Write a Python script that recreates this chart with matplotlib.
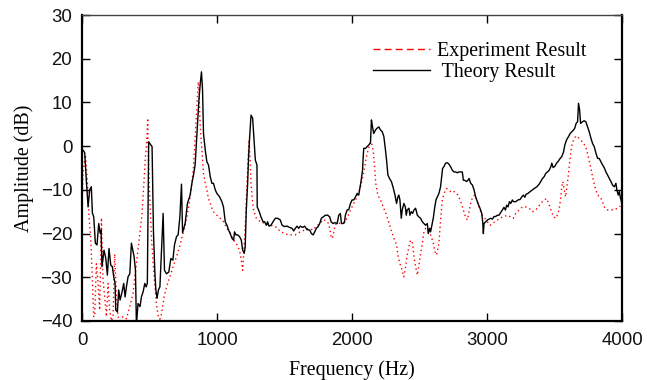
import matplotlib
matplotlib.use("Agg")
import matplotlib.pyplot as plt
from matplotlib.lines import Line2D

theory = [(10,-1.0),(20,-1.5),(32,-7.8),(45,-13.9),(57,-10),(69,-9.3),(77,-15.3),(87,-16.2),(99,-22.2),(111,-22.6),(124,-17.7),(134,-19.9),(141,-19.2),(148,-27.6),(163,-23.8),(176,-25.6),(188,-29.5),(200,-23.4),(213,-27.2),(225,-27.6),(235,-29.9),(245,-31.4),(250,-37.5),(262,-37.9),(272,-32.9),(282,-35.2),(295,-33.6),(309,-31.4),(319,-34.5),(329,-32.2),(341,-29.9),(354,-29.2),(366,-22.2),(386,-25.3),(396,-28.4),(403,-41),(415,-36),(430,-36.7),(440,-34.5),(453,-33.3),(465,-31.4),(475,-32.2),(484,-31.4),(494,1.0),(509,0.3),(519,-0.1),(529,-19.2),(539,-28.4),(547,-32.9),(556,-34.8),(566,-32.9),(577,-32.2),(589,-23.8),(601,-15.4),(611,-28.4),(626,-29.2),(643,-28.8),(658,-25.7),(673,-26.1),(685,-22.6),(700,-20.7),(712,-20.3),(725,-16.2),(737,-8.7),(745,-19.8),(764,-17.7),(781,-13.1),(801,-11.2),(814,-8.5),(826,-6.6),(838,-4.3),(846,-0.1),(856,5.2),(866,10.5),(876,14.4),(885,17.0),(893,12.8),(900,2.9),(913,-0.9),(925,-3.6),(937,-4.3),(950,-7),(962,-8.5),(974,-8.5),(987,-10),(999,-10.8),(1019,-11.6),(1036,-12.7),(1048,-13.9),(1061,-17.3),(1074,-18.1),(1086,-19.2),(1098,-20),(1111,-21.1),(1123,-21.5),(1130,-19.6),(1140,-20.3),(1153,-20.3),(1167,-20.7),(1180,-21.5),(1190,-23.8),(1202,-24.5),(1209,-23),(1217,-14.6),(1227,-8.5),(1234,-2.4),(1242,2.2),(1252,7.1),(1264,6.4),(1271,2.9),(1284,-3.2),(1296,-4.3),(1298,-13.9),(1313,-15),(1326,-16.2),(1341,-17.3),(1353,-17.3),(1365,-18.1),(1375,-17.3),(1385,-18.3),(1400,-18.1),(1415,-17.3),(1432,-16.5),(1449,-16.5),(1469,-16.9),(1482,-18.1),(1499,-18.4),(1519,-18.3),(1538,-18.6),(1556,-18.8),(1568,-19.4),(1580,-18.8),(1593,-18.3),(1605,-18.8),(1617,-18.3),(1635,-18.6),(1649,-18.3),(1667,-19.1),(1687,-19.2),(1699,-20),(1712,-20.3),(1724,-19.6),(1736,-18.8),(1749,-18.4),(1761,-17.7),(1773,-16.5),(1786,-16.2),(1803,-15.8),(1820,-15.8),(1835,-16.2),(1845,-17.3),(1860,-17.7),(1875,-17.5),(1890,-17.7),(1902,-15.8),(1914,-15.4),(1922,-17.7),(1934,-17.7),(1944,-17.5),(1951,-15.8),(1964,-14.6),(1976,-14.5),(1989,-13.1),(2001,-12.3),(2013,-12.3),(2026,-11.6),(2038,-10.8),(2050,-11.2),(2058,-9.7),(2068,-7.8),(2078,-5.5),(2083,-2.4),(2087,-0.5),(2100,-0.5),(2113,-0.1),(2125,0.3),(2137,0.8),(2144,6.0),(2152,4.4),(2161,2.9),(2174,3.7),(2186,4.1),(2199,4.4),(2211,3.7),(2224,3.3),(2236,2.2),(2248,-0.9),(2256,-3.2),(2266,-6.6),(2278,-7.4),(2293,-8.2),(2305,-9.5),(2317,-11),(2330,-13.1),(2340,-11.6),(2347,-11.2),(2355,-12.3),(2365,-16.5),(2372,-14.6),(2384,-13.1),(2395,-13.9),(2402,-15.8),(2409,-14.6),(2422,-14.2),(2429,-15.8),(2439,-15),(2449,-15.4),(2459,-14.6),(2471,-14.2),(2484,-15.8),(2496,-16.2),(2508,-16.5),(2521,-17.3),(2533,-17.7),(2545,-18.1),(2558,-17.7),(2565,-20),(2575,-18.8),(2582,-19.6),(2592,-18.1),(2602,-16.5),(2612,-14.2),(2622,-12.3),(2632,-11.6),(2644,-10.8),(2656,-9.3),(2664,-7),(2671,-5.1),(2681,-4.7),(2693,-3.9),(2706,-3.8),(2718,-4.1),(2730,-4.7),(2743,-5.5),(2755,-5.9),(2768,-5.9),(2780,-6.1),(2792,-5.9),(2805,-5.9),(2817,-5.9),(2825,-7.8),(2834,-7.8),(2849,-8.1),(2859,-7.8),(2867,-7.4),(2879,-8.5),(2892,-8.9),(2904,-10),(2916,-11.6),(2933,-13.1),(2948,-14.2),(2961,-15.4),(2968,-17.3),(2973,-20),(2978,-17.7),(2990,-17.3),(3003,-16.9),(3015,-16.7),(3027,-16.5),(3040,-16.7),(3052,-16.1),(3064,-16.1),(3077,-15.8),(3089,-15.8),(3101,-15.2),(3114,-14.6),(3126,-14),(3136,-14.6),(3146,-13.5),(3156,-13.9),(3166,-12.7),(3176,-13.1),(3188,-12.3),(3195,-12.7),(3213,-12.7),(3230,-12.3),(3245,-12.2),(3258,-11.6),(3270,-11.2),(3280,-11.7),(3290,-11),(3304,-10.8),(3319,-10.4),(3337,-10),(3349,-9.7),(3369,-9.3),(3386,-8.7),(3398,-8.1),(3411,-7.4),(3423,-7),(3436,-6.2),(3448,-5.9),(3461,-5.5),(3473,-4.7),(3480,-3.9),(3490,-4.9),(3503,-4.6),(3515,-3.9),(3527,-3.5),(3542,-2.8),(3554,-2.4),(3567,-1.3),(3577,0.3),(3589,1.4),(3604,2.2),(3616,2.9),(3628,3.3),(3641,3.7),(3650,4.1),(3660,5.2),(3671,5.6),(3678,9.8),(3686,8.3),(3693,5.2),(3708,5.6),(3720,5.8),(3732,5.6),(3745,4.4),(3757,3.3),(3770,1.8),(3782,0.6),(3794,-0.1),(3807,-1.6),(3819,-2.8),(3831,-2.8),(3844,-3.6),(3856,-4.3),(3868,-4.9),(3881,-5.9),(3893,-6.6),(3906,-7.4),(3918,-8.1),(3930,-8.9),(3943,-9.3),(3955,-8.5),(3962,-10),(3972,-11.2),(3980,-10.4),(3987,-11.6),(3998,-13)]

experiment = [(0,-13.9),(7,-6.2),(25,-2),(39,-7.8),(52,-16.2),(64,-20.7),(77,-30.6),(87,-39),(94,-39),(106,-26.9),(119,-31.4),(131,-37.5),(144,-16.4),(156,-30.6),(168,-34.5),(181,-39),(193,-31.4),(205,-37.5),(218,-40),(230,-39),(242,-24.7),(255,-34.5),(267,-39),(279,-40),(304,-39),(329,-39.5),(354,-36.7),(378,-33.7),(403,-26.9),(428,-20),(445,-15.4),(460,-7.8),(470,-2.4),(480,1.4),(487,6.4),(490,-0.9),(502,-11.6),(514,-20.7),(527,-26.9),(539,-31.4),(551,-36),(564,-38.7),(577,-39.6),(589,-38.4),(608,-34.5),(626,-32.2),(651,-29.9),(675,-27.6),(700,-25.3),(725,-22.8),(751,-19.6),(777,-16.2),(796,-12.7),(814,-8.5),(826,-4.7),(833,-0.9),(841,3.7),(851,9),(861,14.7),(868,11.3),(876,4.4),(888,-0.9),(900,-6.2),(913,-8.5),(925,-10),(937,-12),(950,-13.1),(962,-14.2),(974,-15),(999,-15.8),(1024,-16.5),(1048,-17.3),(1074,-18.8),(1098,-20),(1123,-21.5),(1148,-22.6),(1167,-23.8),(1180,-26.1),(1190,-28.4),(1197,-24.7),(1209,-18.6),(1217,-12.3),(1222,-8.5),(1230,-3.2),(1237,1.4),(1245,-3.2),(1252,-8.5),(1260,-11.6),(1271,-14.6),(1291,-16.5),(1321,-17.3),(1358,-17.7),(1395,-18.1),(1432,-18.4),(1469,-19.5),(1506,-20.1),(1543,-20.3),(1580,-20.3),(1617,-19.6),(1647,-19.2),(1679,-18.8),(1712,-19.2),(1736,-18.3),(1761,-17.7),(1791,-16.8),(1820,-17.3),(1835,-18.8),(1845,-20.7),(1855,-21.1),(1865,-19.6),(1875,-18.1),(1890,-17.5),(1914,-17.7),(1939,-17.5),(1964,-16.5),(1989,-14.6),(2013,-13.1),(2038,-11.6),(2063,-9.3),(2083,-6.6),(2100,-3.6),(2113,-1.6),(2127,-0.1),(2142,1.0),(2157,-0.9),(2167,-4.7),(2176,-8.5),(2191,-11.2),(2211,-12.3),(2231,-13.9),(2251,-15.4),(2271,-17.3),(2290,-19.2),(2310,-21),(2330,-22.6),(2340,-24.9),(2355,-26.9),(2372,-28.4),(2384,-29.9),(2397,-27.6),(2409,-24.9),(2422,-23),(2434,-21.5),(2449,-22.2),(2459,-25.3),(2471,-27.6),(2484,-29.5),(2496,-27.2),(2508,-24.7),(2521,-22.2),(2533,-19.6),(2545,-18.8),(2570,-19.6),(2588,-20.7),(2602,-22.2),(2614,-24.1),(2627,-24.9),(2644,-22.2),(2656,-16.9),(2669,-12.3),(2681,-10.8),(2701,-9.7),(2718,-10),(2736,-10.6),(2755,-10.4),(2775,-10.8),(2792,-11.6),(2810,-13.1),(2825,-14.6),(2840,-16.2),(2855,-16.9),(2867,-15),(2879,-13.1),(2894,-11.6),(2909,-11.2),(2924,-12.3),(2941,-13.9),(2958,-15.4),(2973,-16.2),(2990,-16.7),(3007,-17.5),(3022,-18.1),(3040,-17.7),(3057,-17.3),(3077,-16.9),(3101,-16.4),(3126,-16.1),(3151,-15.8),(3176,-16.2),(3195,-16.5),(3213,-15.4),(3238,-14.6),(3263,-13.9),(3287,-13.9),(3312,-14.2),(3337,-15),(3361,-14.6),(3379,-13.9),(3398,-13.1),(3423,-12.3),(3443,-12),(3461,-13.5),(3478,-15),(3493,-16.2),(3510,-16.5),(3527,-15.4),(3537,-13.9),(3547,-11.6),(3554,-9.3),(3562,-8.1),(3572,-10),(3582,-11.6),(3592,-9.3),(3604,-6.2),(3614,-3.2),(3626,-0.1),(3641,1.4),(3658,2.3),(3675,2),(3695,1.4),(3715,0.6),(3732,-0.1),(3750,-2.4),(3764,-4.3),(3782,-7),(3799,-9.3),(3819,-11.2),(3838,-11.6),(3856,-12.7),(3873,-14.2),(3893,-14.6),(3918,-14.6),(3943,-14.5),(3968,-14.2),(3987,-13.7)]

freq_theory = [p[0] for p in theory]
amp_theory = [p[1] for p in theory]
freq_exp = [p[0] for p in experiment]
amp_exp = [p[1] for p in experiment]

x_ticks = [0, 1000, 2000, 3000, 4000]
y_ticks = [-40, -30, -20, -10, 0, 10, 20, 30]
labels = ["Experiment Result", " Theory Result"]

fig = plt.figure(figsize=(6.47, 3.80), dpi=100)
ax = fig.add_axes([82/647, 1-321/380, (622-82)/647, (321-15)/380])

ax.plot(freq_exp, amp_exp, color="red", linestyle=(0, (1, 2.2)), linewidth=1.0)
ax.plot(freq_theory, amp_theory, color="black", linewidth=1.0)

ax.set_xlim(0, 4000)
ax.set_ylim(-40, 30)
ax.set_xticks(x_ticks)
ax.set_yticks(y_ticks)
ax.tick_params(direction="in", length=6, width=1, top=True, right=True,
               labelsize=13.4)
ax.tick_params(axis="x", pad=8)
ax.tick_params(axis="y", pad=7)
for lab in ax.get_xticklabels() + ax.get_yticklabels():
    lab.set_family("Liberation Sans")
    lab.set_color("#111111")

for s in ["left", "bottom", "right"]:
    ax.spines[s].set_linewidth(1.6)
ax.spines["top"].set_linewidth(1.0)
ax.spines["top"].set_color("#444444")

ax.set_xlabel("Frequency (Hz)", family="Liberation Serif", fontsize=14.4, labelpad=8)
ax.set_ylabel("Amplitude (dB)", family="Liberation Serif", fontsize=14.4, labelpad=5)

handles = [Line2D([], [], color="red", linestyle=(0, (5, 3)), linewidth=1.0),
           Line2D([], [], color="black", linewidth=1.0)]
ax.legend(handles, labels, loc="upper left", bbox_to_anchor=(0.5055, 0.971),
          frameon=False, handlelength=2.85, handletextpad=0.35, labelspacing=0.1,
          borderpad=0.4, prop={"family": "Liberation Serif", "size": 14.4})

fig.savefig("out.png", dpi=100)
